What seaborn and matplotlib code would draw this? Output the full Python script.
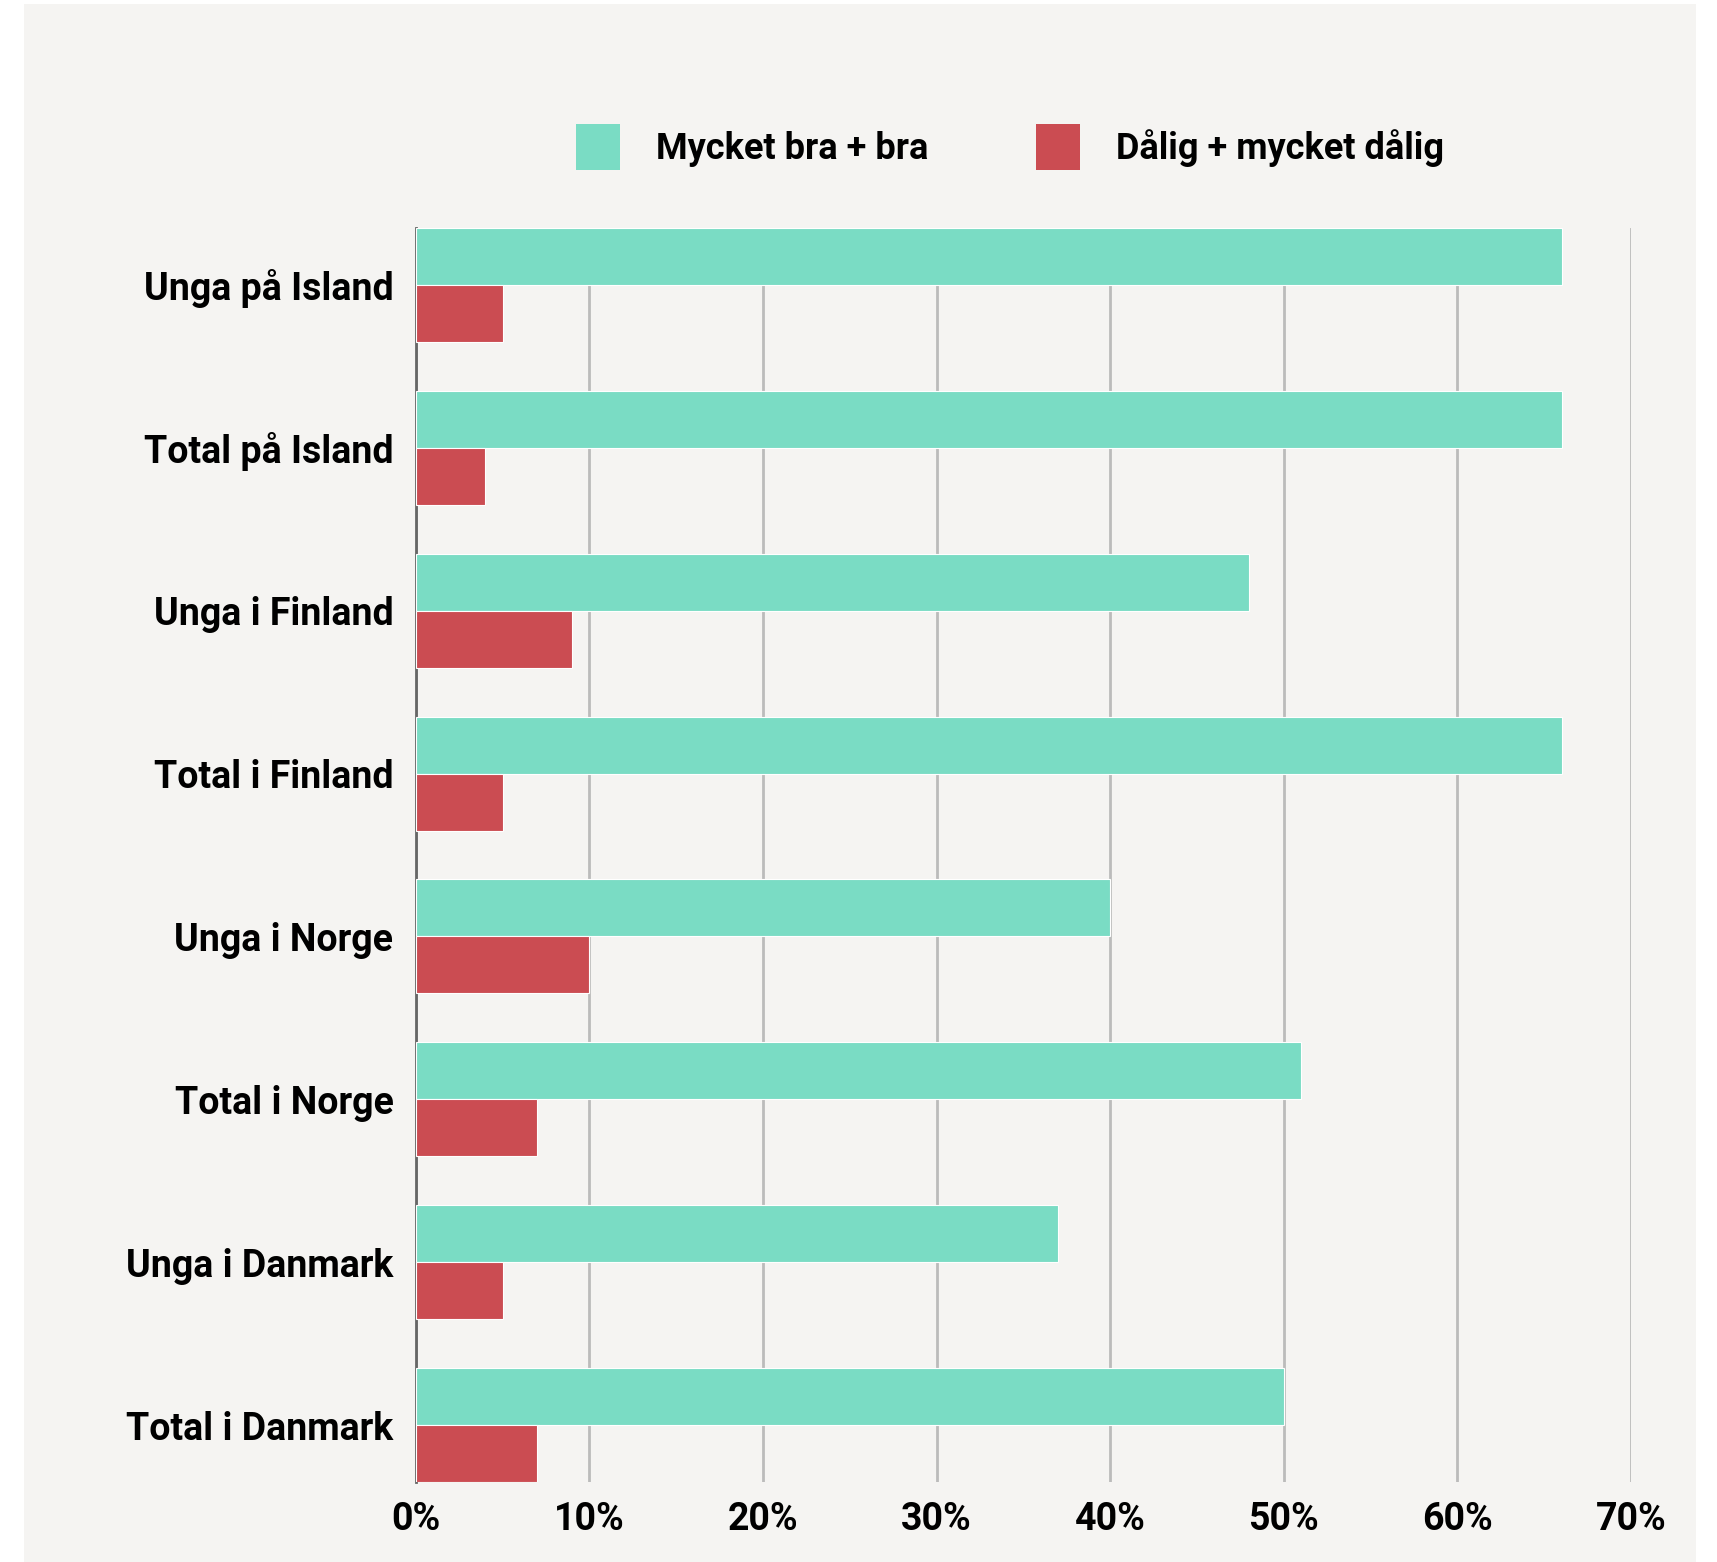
import pandas as pd
import numpy as np
import matplotlib.pyplot as plt
import matplotlib.patches as mpatches
import seaborn as sns

# Data
categories = ["Unga på Island", "Total på Island", "Unga i Finland", "Total i Finland",
              "Unga i Norge", "Total i Norge", "Unga i Danmark", "Total i Danmark"]
series = ["Mycket bra + bra", "Dålig + mycket dålig"]
good = [66, 66, 48, 66, 40, 51, 37, 50]
bad = [5, 4, 9, 5, 10, 7, 5, 7]
xticks = [0, 10, 20, 30, 40, 50, 60, 70]

colors = ["#7adcc4", "#cb4c52"]
bg = "#f5f4f2"

df = pd.DataFrame({
    "kategori": categories * 2,
    "serie": [series[0]] * len(categories) + [series[1]] * len(categories),
    "andel": good + bad,
})

sns.set_style("white")
plt.rcParams["font.family"] = ["Roboto", "DejaVu Sans"]
plt.rcParams["font.weight"] = "bold"
plt.rcParams["text.color"] = "black"

W, H = 1717, 1562
fig = plt.figure(figsize=(W / 100, H / 100), dpi=100)
fig.patch.set_facecolor("white")
# light panel behind the chart
panel = mpatches.Rectangle((24 / W, 0), (1696 - 24) / W, (H - 4) / H,
                           transform=fig.transFigure, facecolor=bg,
                           edgecolor="none", zorder=-10)
fig.patches.append(panel)

ax = fig.add_axes([415.7 / W, 1 - 1482 / H, (1631 - 415.7) / W, (1482 - 228) / H])
ax.patch.set_alpha(0)

sns.barplot(data=df, y="kategori", x="andel", hue="serie", order=categories,
            hue_order=series, palette=colors, width=0.7, orient="h",
            edgecolor="white", linewidth=0.8, saturation=1, ax=ax, zorder=3)

ax.set_xlim(0, 70)
ax.set_ylim(len(categories) - 0.65, -0.35)
ax.set_xticks(xticks)
ax.set_xticklabels([f"{t}%" for t in xticks])
ax.grid(axis="x", color="#bbbbbb", linewidth=2, zorder=0)
ax.set_axisbelow(True)
for s in ["top", "right", "bottom"]:
    ax.spines[s].set_visible(False)
ax.spines["left"].set_color("#666666")
ax.spines["left"].set_linewidth(2)
ax.spines["left"].set_zorder(2)
ax.tick_params(axis="both", length=0, labelsize=27, labelcolor="black")
ax.tick_params(axis="y", pad=16)
ax.tick_params(axis="x", pad=14)
ax.set_xlabel("")
ax.set_ylabel("")
for lbl in ax.get_xticklabels() + ax.get_yticklabels():
    lbl.set_fontweight("bold")

ax.get_legend().remove()
handles = [mpatches.Patch(facecolor=c, edgecolor="none") for c in colors]
fig.legend(handles, series, loc="center", bbox_to_anchor=(1010 / W, 1 - 147 / H),
           ncol=2, frameon=False, handlelength=1.2, handleheight=1.6,
           handletextpad=1.0, columnspacing=3.0, labelcolor="black",
           prop={"weight": "bold", "size": 26})

fig.savefig("out.png", dpi=100, facecolor="white")
